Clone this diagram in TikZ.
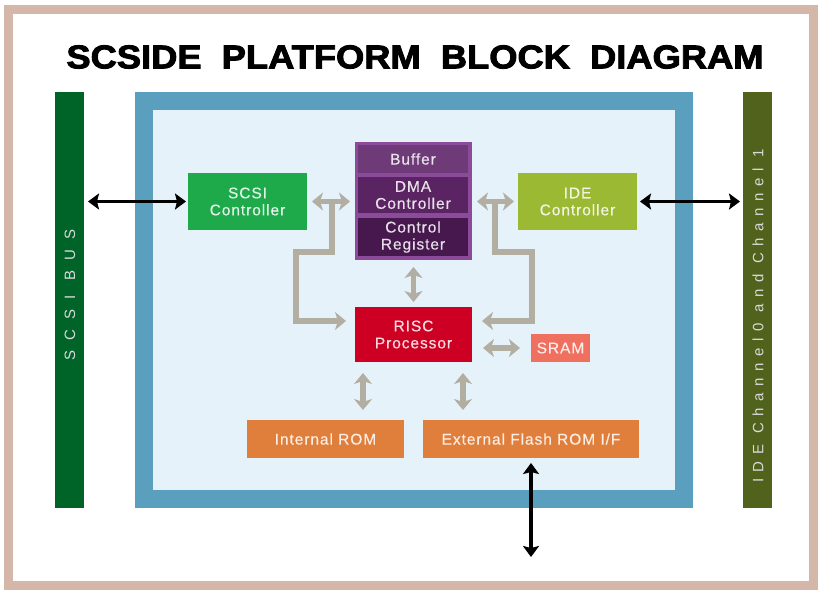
\documentclass[tikz,border=0pt]{standalone}
\usepackage{fontspec}
\setmainfont{Liberation Sans}
\newfontfamily\titlefont[FakeBold=2.5,WordSpace=2.0]{Liberation Sans Bold}
\newfontfamily\lblfont[LetterSpace=6,FakeBold=0.4]{Liberation Sans}
\newfontfamily\sbusfont[LetterSpace=68]{Liberation Sans}
\newfontfamily\ibusfont[LetterSpace=44]{Liberation Sans}
\usetikzlibrary{arrows.meta}

\definecolor{frametan}{RGB}{212,183,168}
\definecolor{socblue}{RGB}{90,160,190}
\definecolor{socfill}{RGB}{230,242,250}
\definecolor{scsigreen}{RGB}{30,170,75}
\definecolor{idegreen}{RGB}{155,185,50}
\definecolor{busgreen}{RGB}{0,100,40}
\definecolor{busolive}{RGB}{80,98,28}
\definecolor{stackpurple}{RGB}{140,74,155}
\definecolor{bufpurple}{RGB}{110,58,120}
\definecolor{dmapurple}{RGB}{90,36,98}
\definecolor{regpurple}{RGB}{70,24,78}
\definecolor{riscred}{RGB}{205,0,35}
\definecolor{sramred}{RGB}{240,112,96}
\definecolor{romorange}{RGB}{224,126,60}
\definecolor{busgray}{RGB}{178,174,162}

\begin{document}
\begin{tikzpicture}[x=1pt, y=-1pt]
\tikzset{ inner sep=0pt, outer sep=0pt,
  blk/.style={fill=#1, text=white!86!#1, align=center,
    font={\lblfont\fontsize{15.5}{17}\selectfont}},
  cell/.style={blk=#1, minimum width=110pt},
  bar/.style={fill=#1, minimum width=29pt, minimum height=416pt},
  barlbl/.style={rotate=90, text=white!85!black},
  garrow/.style={draw=busgray, line width=5.5pt, {Stealth[length=11pt, width=18pt, inset=3pt]}-{Stealth[length=11pt, width=18pt, inset=3pt]}},
  gbranch/.style={draw=busgray, line width=5.5pt, line join=miter, -{Stealth[length=11pt, width=18pt, inset=3pt]}},
  barrow/.style={line width=3.5pt, {Stealth[length=11pt, width=16pt, inset=2pt]}-{Stealth[length=11pt, width=16pt, inset=2pt]}},
}

\useasboundingbox (0,0) rectangle (818,590);

%\draw [lightgray, dashed] (0,0) grid[step=50] (818,590);

\draw [frametan, line width=9pt] (8.5,9.5) rectangle (813.5,585.5);

\node [font={\titlefont\fontsize{33}{36}\selectfont}] (T) at (415,57)
  {\scalebox{1.1}[1]{SCSIDE PLATFORM BLOCK DIAGRAM}};

% buses
\node [bar=busgreen] (SB) at (69.5,300) {};
\node [bar=busolive] (IB) at (757.5,300) {};
\node [barlbl, font={\sbusfont\fontsize{15}{17}\selectfont}] (SBL) at (70,295) {SCSI BUS};
\node [barlbl, font={\ibusfont\fontsize{15}{17}\selectfont}] (IBL) at (758,316) {IDE Channel0 and Channel 1};

% chip
\draw [socblue, fill=socfill, line width=18pt] (144,101) rectangle (684,499);

\node [blk=scsigreen, minimum width=119pt, minimum height=57pt] (SC) at (247.5,201.5) {SCSI\\Controller};
\node [blk=idegreen,  minimum width=119pt, minimum height=57pt] (IC) at (577.5,201.5) {IDE\\Controller};

\node [fill=stackpurple, minimum width=117pt, minimum height=118pt] (STK) at (413.5,201) {};
\node [cell=bufpurple, minimum height=28pt] (BUF) at (413,159) {Buffer};
\node [cell=dmapurple, minimum height=36pt] (DMA) at (413,195) {DMA\\Controller};
\node [cell=regpurple, minimum height=38pt] (REG) at (413,237) {Control\\Register};

\node [blk=riscred, minimum width=117pt, minimum height=55pt] (RISC) at (413.5,334.5) {RISC\\Processor};
\node [blk=sramred, minimum width=59pt, minimum height=28pt] (SRAM) at (560.5,348) {SRAM};

\node [blk=romorange, minimum width=157pt, minimum height=38pt] (IROM) at (325.5,439) {Internal ROM};
\node [blk=romorange, minimum width=216pt, minimum height=38pt] (XROM) at (531,439) {External Flash ROM I/F};

% inner busses
\draw [garrow, shorten <=5pt, shorten >=5pt] (SC.east) -- (SC.east -| STK.west);
\draw [garrow, shorten <=5pt, shorten >=4pt] (IC.west -| STK.east) -- (IC.west);
\coordinate (SJ) at (332,201.5);
\coordinate (IJ) at (495,201.5);
\draw [gbranch, shorten >=9pt] (SJ) -- (332,252) -- (296,252) -- (296,321) -- ([yshift=13.5pt]RISC.west);
\draw [gbranch, shorten >=10pt] (IJ) -- (495,252) -- (532,252) -- (532,321) -- ([yshift=13.5pt]RISC.east);
\draw [garrow, shorten <=7pt, shorten >=5pt] (STK.south) -- (RISC.north);
\draw [garrow, shorten <=11pt, shorten >=11pt] (RISC.east |- SRAM.west) -- (SRAM.west);
\draw [garrow, shorten <=11pt, shorten >=10pt] ([xshift=-50.5pt]RISC.south) -- ([xshift=37.5pt]IROM.north);
\draw [garrow, shorten <=11pt, shorten >=10pt] ([xshift=49.5pt]RISC.south) -- ([xshift=-68pt]XROM.north);

% outside busses
\coordinate (FL) at (531,557);
\draw [barrow, shorten <=4pt, shorten >=2pt] (SB.east |- SC.west) -- (SC.west);
\draw [barrow, shorten <=3pt, shorten >=3pt] (IC.east) -- (IC.east -| IB.west);
\draw [barrow, shorten <=5pt] (XROM.south) -- (FL);
\end{tikzpicture}
\end{document}
